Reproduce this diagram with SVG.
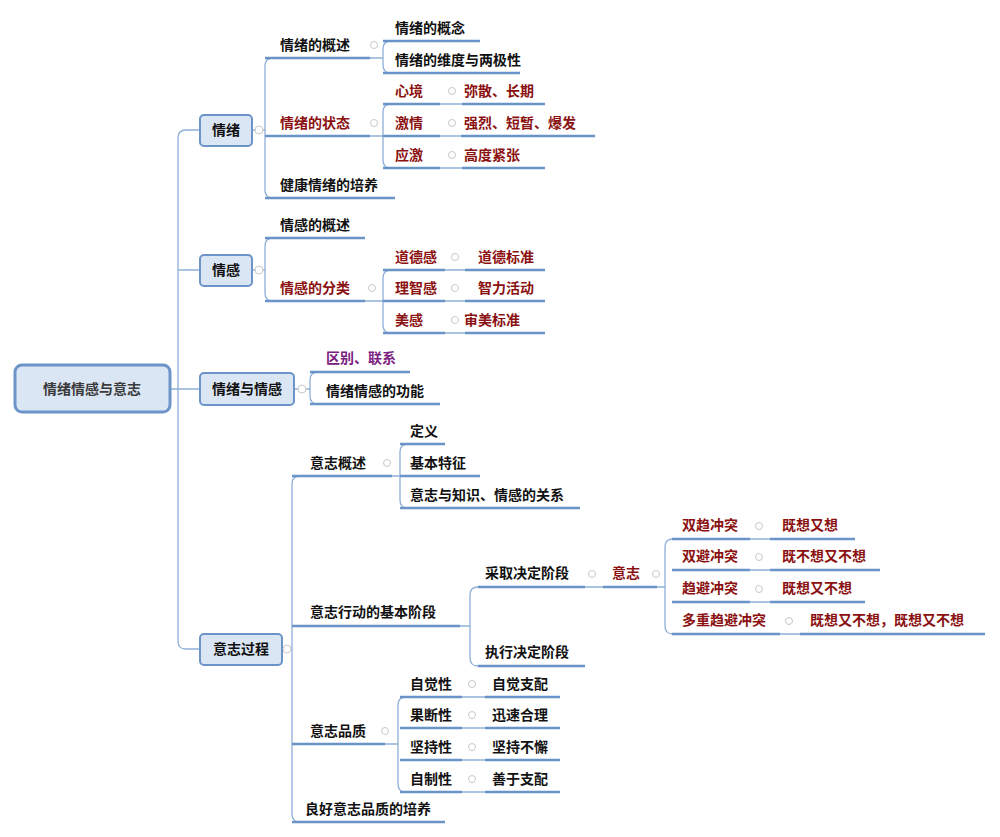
<svg xmlns="http://www.w3.org/2000/svg" width="1000" height="837" viewBox="0 0 1000 837">
<style>
text{font-family:"Noto Sans CJK SC","Liberation Sans",sans-serif;font-size:14px;font-weight:bold;fill:#111}
.r{fill:#8b1111}.p{fill:#7a2080}
.box{fill:#dbe6f4;stroke:#6d94c9;stroke-width:2}
.u{stroke:#6a93c8;stroke-width:2.5;fill:none}
.c{stroke:#8fb0d8;stroke-width:1.3;fill:none}
.m{fill:#fff;stroke:#c8c8c8;stroke-width:1}
</style>
<rect width="1000" height="837" fill="#fff"/>
<g id="connectors">
<path class="c" d="M170,389 H178 M186,130 Q178,130 178,138 V641 Q178,649 186,649 H200 M186,130 H200 M178,270 H200 M178,389 H200"/>
<path class="c" d="M252,130 H265 M273,58 Q265,58 265,66 V190 Q265,198 273,198 M265,136 H275"/>
<path class="c" d="M370,58 H383 M391,41 Q383,41 383,49 V65 Q383,73 391,73"/>
<path class="c" d="M370,136 H383 M391,104 Q383,104 383,112 V160 Q383,168 391,168"/>
<path class="c" d="M440,104 H462 M440,136 H461 M440,168 H462"/>
<path class="c" d="M252,270 H265 M273,238 Q265,238 265,246 V293 Q265,301 273,301"/>
<path class="c" d="M365,301 H383 M391,270 Q383,270 383,278 V325 Q383,333 391,333"/>
<path class="c" d="M445,270 H465 M445,301 H465 M445,333 H465"/>
<path class="c" d="M294,389 H310 M318,372 Q310,372 310,380 V396 Q310,404 318,404"/>
<path class="c" d="M282,649 H292 M300,476 Q292,476 292,484 V814 Q292,822 300,822"/>
<path class="c" d="M392,476 H400 M408,444 Q400,444 400,452 V500 Q400,508 408,508"/>
<path class="c" d="M460,626 H470 M478,587 Q470,587 470,595 V658 Q470,666 478,666"/>
<path class="c" d="M585,587 H603 M657,587 H665 M673,539 Q665,539 665,547 V626 Q665,634 673,634"/>
<path class="c" d="M750,539 H770 M750,570 H770 M750,602 H770 M780,634 H800"/>
<path class="c" d="M385,744 H398 M406,697 Q398,697 398,705 V784 Q398,792 406,792"/>
<path class="c" d="M462,697 H485 M462,728 H485 M462,760 H485 M462,792 H485"/>
</g>
<g id="root"><rect class="box" x="15" y="365" width="155" height="47" rx="7" style="stroke-width:3"/><text x="92" y="394" text-anchor="middle" style="fill:#3a3a3a">情绪情感与意志</text></g>
<g id="n1"><rect class="box" x="200" y="115" width="52" height="31" rx="4"/><text x="226" y="135" text-anchor="middle">情绪</text><circle class="m" cx="259" cy="130" r="4"/></g>
<g id="n2"><rect class="box" x="200" y="255" width="52" height="31" rx="4"/><text x="226" y="275" text-anchor="middle">情感</text><circle class="m" cx="259" cy="270" r="4"/></g>
<g id="n3"><rect class="box" x="200" y="373" width="94" height="32" rx="4"/><text x="247" y="394" text-anchor="middle">情绪与情感</text><circle class="m" cx="302" cy="389" r="4"/></g>
<g id="n4"><rect class="box" x="200" y="634" width="82" height="31" rx="4"/><text x="241" y="654" text-anchor="middle">意志过程</text><circle class="m" cx="287" cy="649" r="4"/></g>
<g id="leaves">
<line class="u" x1="265" y1="58" x2="370" y2="58"/><text x="280" y="50">情绪的概述</text><circle class="m" cx="374" cy="45" r="3.5"/>
<line class="u" x1="383" y1="41" x2="480" y2="41"/><text x="395" y="33">情绪的概念</text>
<line class="u" x1="383" y1="73" x2="520" y2="73"/><text x="395" y="65">情绪的维度与两极性</text>
<line class="u" x1="265" y1="136" x2="370" y2="136"/><text x="280" y="128" class="r">情绪的状态</text><circle class="m" cx="374" cy="123" r="3.5"/>
<line class="u" x1="383" y1="104" x2="440" y2="104"/><text x="395" y="96" class="r">心境</text><circle class="m" cx="452" cy="91" r="3.5"/>
<line class="u" x1="462" y1="104" x2="545" y2="104"/><text x="464" y="96" class="r">弥散、长期</text>
<line class="u" x1="383" y1="136" x2="440" y2="136"/><text x="395" y="128" class="r">激情</text><circle class="m" cx="452" cy="123" r="3.5"/>
<line class="u" x1="461" y1="136" x2="595" y2="136"/><text x="464" y="128" class="r">强烈、短暂、爆发</text>
<line class="u" x1="383" y1="168" x2="440" y2="168"/><text x="395" y="160" class="r">应激</text><circle class="m" cx="452" cy="155" r="3.5"/>
<line class="u" x1="462" y1="168" x2="545" y2="168"/><text x="464" y="160" class="r">高度紧张</text>
<line class="u" x1="265" y1="198" x2="395" y2="198"/><text x="280" y="190">健康情绪的培养</text>
<line class="u" x1="265" y1="238" x2="365" y2="238"/><text x="280" y="230">情感的概述</text>
<line class="u" x1="265" y1="301" x2="365" y2="301"/><text x="280" y="293" class="r">情感的分类</text><circle class="m" cx="372" cy="288" r="3.5"/>
<line class="u" x1="383" y1="270" x2="445" y2="270"/><text x="395" y="262" class="r">道德感</text><circle class="m" cx="455" cy="257" r="3.5"/>
<line class="u" x1="465" y1="270" x2="545" y2="270"/><text x="478" y="262" class="r">道德标准</text>
<line class="u" x1="383" y1="301" x2="445" y2="301"/><text x="395" y="293" class="r">理智感</text><circle class="m" cx="455" cy="288" r="3.5"/>
<line class="u" x1="465" y1="301" x2="545" y2="301"/><text x="478" y="293" class="r">智力活动</text>
<line class="u" x1="383" y1="333" x2="445" y2="333"/><text x="395" y="325" class="r">美感</text><circle class="m" cx="455" cy="320" r="3.5"/>
<line class="u" x1="465" y1="333" x2="545" y2="333"/><text x="464" y="325" class="r">审美标准</text>
<line class="u" x1="310" y1="372" x2="410" y2="372"/><text x="326" y="363" class="p">区别、联系</text>
<line class="u" x1="310" y1="404" x2="440" y2="404"/><text x="326" y="396">情绪情感的功能</text>
<line class="u" x1="292" y1="476" x2="392" y2="476"/><text x="310" y="468">意志概述</text><circle class="m" cx="387" cy="463" r="3.5"/>
<line class="u" x1="400" y1="444" x2="445" y2="444"/><text x="410" y="436">定义</text>
<line class="u" x1="400" y1="476" x2="480" y2="476"/><text x="410" y="468">基本特征</text>
<line class="u" x1="400" y1="508" x2="580" y2="508"/><text x="410" y="500">意志与知识、情感的关系</text>
<line class="u" x1="292" y1="626" x2="460" y2="626"/><text x="310" y="617">意志行动的基本阶段</text>
<line class="u" x1="478" y1="587" x2="585" y2="587"/><text x="485" y="578">采取决定阶段</text><circle class="m" cx="592" cy="574" r="3.5"/>
<line class="u" x1="478" y1="666" x2="585" y2="666"/><text x="485" y="657">执行决定阶段</text>
<line class="u" x1="603" y1="587" x2="657" y2="587"/><text x="612" y="578" class="r">意志</text><circle class="m" cx="656" cy="574" r="3.5"/>
<line class="u" x1="672" y1="539" x2="750" y2="539"/><text x="682" y="530" class="r">双趋冲突</text><circle class="m" cx="759" cy="526" r="3.5"/>
<line class="u" x1="770" y1="539" x2="855" y2="539"/><text x="782" y="530" class="r">既想又想</text>
<line class="u" x1="672" y1="570" x2="750" y2="570"/><text x="682" y="561" class="r">双避冲突</text><circle class="m" cx="759" cy="557" r="3.5"/>
<line class="u" x1="770" y1="570" x2="880" y2="570"/><text x="782" y="561" class="r">既不想又不想</text>
<line class="u" x1="672" y1="602" x2="750" y2="602"/><text x="682" y="593" class="r">趋避冲突</text><circle class="m" cx="759" cy="589" r="3.5"/>
<line class="u" x1="770" y1="602" x2="865" y2="602"/><text x="782" y="593" class="r">既想又不想</text>
<line class="u" x1="672" y1="634" x2="780" y2="634"/><text x="682" y="625" class="r">多重趋避冲突</text><circle class="m" cx="789" cy="621" r="3.5"/>
<line class="u" x1="800" y1="634" x2="985" y2="634"/><text x="810" y="625" class="r">既想又不想，既想又不想</text>
<line class="u" x1="292" y1="744" x2="385" y2="744"/><text x="310" y="736">意志品质</text><circle class="m" cx="385" cy="731" r="3.5"/>
<line class="u" x1="400" y1="697" x2="462" y2="697"/><text x="410" y="689">自觉性</text><circle class="m" cx="472" cy="684" r="3.5"/>
<line class="u" x1="485" y1="697" x2="560" y2="697"/><text x="492" y="689">自觉支配</text>
<line class="u" x1="400" y1="728" x2="462" y2="728"/><text x="410" y="720">果断性</text><circle class="m" cx="472" cy="715" r="3.5"/>
<line class="u" x1="485" y1="728" x2="560" y2="728"/><text x="492" y="720">迅速合理</text>
<line class="u" x1="400" y1="760" x2="462" y2="760"/><text x="410" y="752">坚持性</text><circle class="m" cx="472" cy="747" r="3.5"/>
<line class="u" x1="485" y1="760" x2="560" y2="760"/><text x="492" y="752">坚持不懈</text>
<line class="u" x1="400" y1="792" x2="462" y2="792"/><text x="410" y="784">自制性</text><circle class="m" cx="472" cy="779" r="3.5"/>
<line class="u" x1="485" y1="792" x2="560" y2="792"/><text x="492" y="784">善于支配</text>
<line class="u" x1="292" y1="822" x2="445" y2="822"/><text x="305" y="814">良好意志品质的培养</text>
</g>
</svg>
